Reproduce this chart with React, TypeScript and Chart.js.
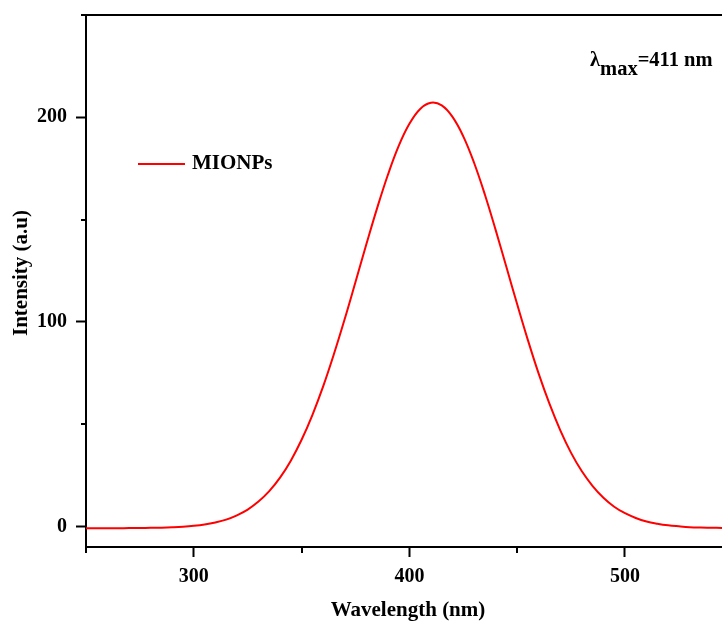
import { useEffect, useRef } from 'react';
import { Chart, registerables } from 'chart.js';

Chart.register(...registerables);

const wavelengths = [
  250, 255, 260, 265, 270, 275, 280, 285, 290, 295,
  300, 305, 310, 315, 320, 325, 330, 335, 340, 345,
  350, 355, 360, 365, 370, 375, 380, 385, 390, 395,
  400, 405, 410, 415, 420, 425, 430, 435, 440, 445,
  450, 455, 460, 465, 470, 475, 480, 485, 490, 495,
  500, 505, 510, 515, 520, 525, 530, 535, 540, 545,
];

const intensity = [
  -0.8, -0.8, -0.8, -0.8, -0.75, -0.7, -0.65, -0.55, -0.37, -0.1,
  0.34, 1.0, 2.0, 3.4, 5.5, 8.3, 12.2, 17.3, 23.9, 32.2,
  42.4, 54.5, 68.5, 84.3, 101.4, 119.5, 137.8, 155.5, 171.8, 185.9,
  196.8, 204.1, 207.1, 205.8, 200.2, 190.7, 177.8, 162.3, 145.0, 126.8,
  108.6, 91.0, 74.6, 59.9, 47.0, 36.0, 27.0, 19.8, 14.1, 9.7,
  6.5, 4.2, 2.5, 1.4, 0.6, 0.1, -0.3, -0.5, -0.6, -0.7,
];

const seriesName = 'MIONPs';
const xTitle = 'Wavelength (nm)';
const yTitle = 'Intensity (a.u)';
const xMajorTicks = [300, 400, 500];
const yMajorTicks = [0, 100, 200];
const xMinorTicks = [250, 350, 450];
const yMinorTicks = [50, 150, 250];

const FONT = "'Liberation Serif', 'Times New Roman', Times, serif";

const decor = {
  id: 'decor',
  afterDraw(chart: any) {
    const ctx = chart.ctx as CanvasRenderingContext2D;
    const ca = chart.chartArea;
    const xs = chart.scales.x;
    const ys = chart.scales.y;
    ctx.save();
    ctx.strokeStyle = '#000';
    ctx.lineWidth = 2;
    // top frame line
    ctx.beginPath();
    ctx.moveTo(ca.left, ca.top);
    ctx.lineTo(ca.right, ca.top);
    ctx.stroke();
    // minor ticks
    ctx.beginPath();
    yMinorTicks.forEach((v) => {
      const py = Math.round(ys.getPixelForValue(v));
      ctx.moveTo(ca.left - 5, py);
      ctx.lineTo(ca.left, py);
    });
    xMinorTicks.forEach((v) => {
      const px = Math.round(xs.getPixelForValue(v));
      ctx.moveTo(px, ca.bottom);
      ctx.lineTo(px, ca.bottom + 6);
    });
    ctx.stroke();

    // legend
    ctx.strokeStyle = '#ff0000';
    ctx.lineWidth = 2;
    ctx.beginPath();
    ctx.moveTo(138, 164);
    ctx.lineTo(185, 164);
    ctx.stroke();
    ctx.fillStyle = '#000';
    ctx.font = `bold 21px ${FONT}`;
    ctx.textAlign = 'left';
    ctx.textBaseline = 'middle';
    ctx.fillText(seriesName, 192, 164);

    // annotation λmax=411 nm
    ctx.font = `bold 20.5px ${FONT}`;
    ctx.textBaseline = 'alphabetic';
    let ax = 590;
    ctx.fillText('λ', ax, 66);
    ax += ctx.measureText('λ').width;
    ctx.fillText('max', ax, 75);
    ax += ctx.measureText('max').width;
    ctx.fillText('=411 nm', ax, 66);

    // axis titles
    ctx.font = `bold 21px ${FONT}`;
    ctx.textAlign = 'center';
    ctx.textBaseline = 'middle';
    ctx.fillText(xTitle, 408, 611);
    ctx.translate(22, 273);
    ctx.rotate(-Math.PI / 2);
    ctx.fillText(yTitle, 0, 0);
    ctx.restore();
  },
};

export default function App() {
  const ref = useRef<HTMLCanvasElement | null>(null);
  useEffect(() => {
    document.body.style.margin = '0';
    const canvas = ref.current;
    if (!canvas) return;
    const tickFont = { family: FONT, size: 20, weight: 'bold' as const };
    const gridOpts = {
      display: true,
      drawOnChartArea: false,
      tickLength: 10,
      tickWidth: 2,
      tickColor: '#000',
    };
    const chart = new Chart(canvas, {
      type: 'line',
      data: {
        datasets: [
          {
            label: seriesName,
            data: wavelengths.map((w, i) => ({ x: w, y: intensity[i] })),
            borderColor: '#ff0000',
            borderWidth: 2,
            pointRadius: 0,
            tension: 0.4,
            fill: false,
          },
        ],
      },
      options: {
        responsive: false,
        animation: false,
        layout: { padding: { top: 15, right: 0, left: 0, bottom: 0 } },
        plugins: { legend: { display: false }, tooltip: { enabled: false } },
        scales: {
          x: {
            type: 'linear',
            min: 250,
            max: 545,
            afterBuildTicks: (s: any) => {
              s.ticks = xMajorTicks.map((v) => ({ value: v }));
            },
            afterFit: (s: any) => {
              s.height = 76;
              s.paddingLeft = 0;
              s.paddingRight = 0;
            },
            ticks: {
              color: '#000',
              font: tickFont,
              padding: 8,
              maxRotation: 0,
              autoSkip: false,
            },
            grid: gridOpts,
            border: { display: true, color: '#000', width: 2 },
          },
          y: {
            type: 'linear',
            min: -10,
            max: 250,
            afterBuildTicks: (s: any) => {
              s.ticks = yMajorTicks.map((v) => ({ value: v }));
            },
            afterFit: (s: any) => {
              s.width = 86;
              s.paddingTop = 0;
              s.paddingBottom = 0;
            },
            ticks: {
              color: '#000',
              font: tickFont,
              padding: 9,
            },
            grid: gridOpts,
            border: { display: true, color: '#000', width: 2 },
          },
        },
      },
      plugins: [decor],
    });
    return () => chart.destroy();
  }, []);
  return (
    <canvas
      ref={ref}
      width={722}
      height={623}
      style={{ display: 'block', width: 722, height: 623 }}
    />
  );
}
